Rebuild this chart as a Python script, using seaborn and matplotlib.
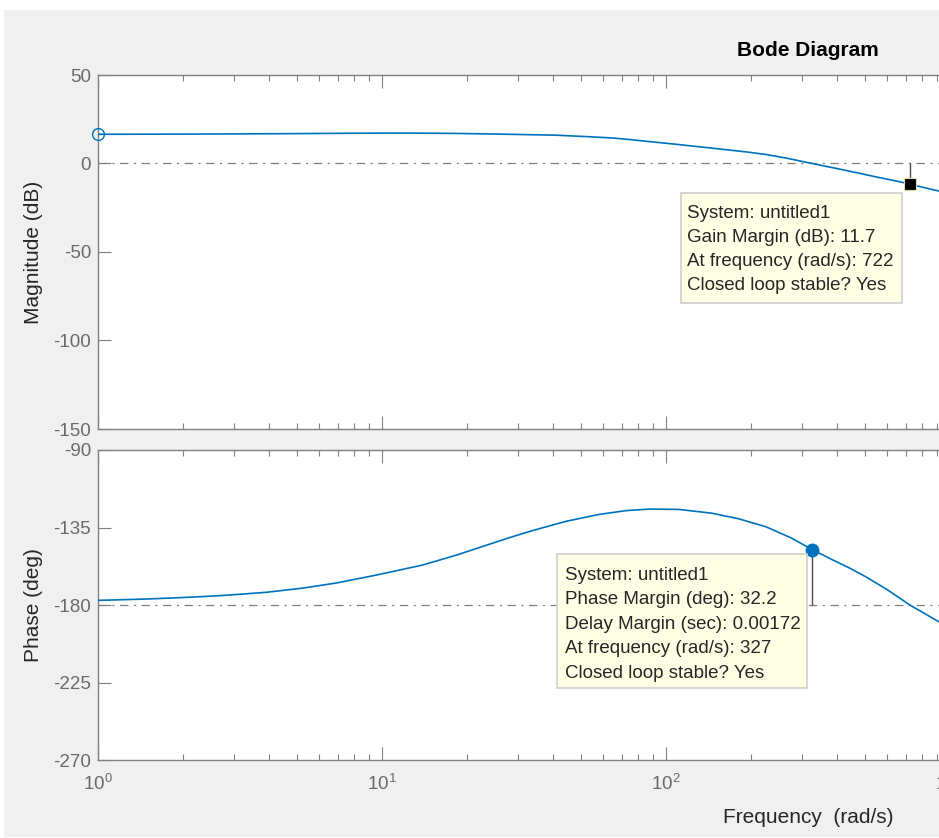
import matplotlib
matplotlib.use("Agg")
import matplotlib.pyplot as plt
import seaborn as sns
import pandas as pd
from matplotlib.patches import Rectangle
from matplotlib.ticker import LogLocator, LogFormatterMathtext, NullFormatter, FixedLocator

# ---------------- data ----------------
freq_mag = [1, 2, 4, 8, 12, 18, 26, 41, 54, 65, 76, 87, 108, 130, 163, 195, 225,
            270, 327, 390, 451, 550, 661, 722, 904, 1000]
mag_db = [16.5, 16.6, 16.8, 17.1, 17.2, 17.0, 16.6, 16.0, 15.1, 14.4, 13.4, 12.4,
          10.9, 9.5, 7.8, 6.4, 5.1, 2.8, 0.0, -2.5, -4.6, -7.6, -10.2, -11.7,
          -15.4, -17.2]

freq_phase = [1, 1.44, 1.91, 2.41, 2.91, 3.93, 5.26, 6.92, 9.56, 13.9, 18.3, 23.0,
              28.1, 33.7, 44.5, 58.2, 72.3, 87.3, 111, 145, 180, 225, 277, 327,
              384, 440, 505, 600, 722, 904, 1000]
phase_deg = [-177.3, -176.6, -175.8, -175.0, -174.2, -172.6, -170.2, -167.2,
             -162.6, -156.8, -151.0, -145.6, -140.9, -136.9, -131.4, -127.4,
             -125.2, -124.3, -124.5, -126.7, -129.9, -134.6, -141.2, -147.8,
             -153.6, -158.3, -163.6, -171.0, -180.0, -189.3, -193.3]

gm_freq, gm_db = 722, -11.7
pm_freq, pm_phase = 327, -147.8

mag_yticks = [-150, -100, -50, 0, 50]
phase_yticks = [-270, -225, -180, -135, -90]

gm_lines = ["System: untitled1", "Gain Margin (dB): 11.7",
            "At frequency (rad/s): 722", "Closed loop stable? Yes"]
pm_lines = ["System: untitled1", "Phase Margin (deg): 32.2",
            "Delay Margin (sec): 0.00172", "At frequency (rad/s): 327",
            "Closed loop stable? Yes"]

# ---------------- style ----------------
sns.set_style("white")
plt.rcParams["font.family"] = ["Liberation Sans", "DejaVu Sans"]
plt.rcParams["mathtext.fontset"] = "custom"
plt.rcParams["mathtext.rm"] = "Liberation Sans"
plt.rcParams["mathtext.it"] = "Liberation Sans"
plt.rcParams["mathtext.default"] = "regular"
plt.rcParams["lines.scale_dashes"] = False
plt.rcParams["axes.unicode_minus"] = False

LINE = "#0072bd"
AXC = "#808080"
TICKC = "#6a6a6a"
LABC = "#262626"
DASH = (0, (6, 4, 1.5, 4))

W, H = 939, 838
fig = plt.figure(figsize=(W / 100, H / 100), dpi=100, facecolor="white")
fig.add_artist(Rectangle((4 / W, 1 - 837 / H), 1, (837 - 10) / H,
                         transform=fig.transFigure, facecolor="#f0f0f0",
                         edgecolor="none", zorder=-10))

def fx(x):
    return x / W

def fy(y):
    return 1 - y / H

ax1 = fig.add_axes([fx(98), fy(429), 1420 / W, 354 / H])
ax2 = fig.add_axes([fx(98), fy(760), 1420 / W, 310 / H])

mag_df = pd.DataFrame({"freq": freq_mag, "mag": mag_db})
ph_df = pd.DataFrame({"freq": freq_phase, "phase": phase_deg})

sns.lineplot(data=mag_df, x="freq", y="mag", ax=ax1, color=LINE, lw=1.2,
             estimator=None, sort=False, zorder=3)
sns.lineplot(data=ph_df, x="freq", y="phase", ax=ax2, color=LINE, lw=1.2,
             estimator=None, sort=False, zorder=3)

for ax, ylim, yt in [(ax1, (-150, 50), mag_yticks), (ax2, (-270, -90), phase_yticks)]:
    ax.set_facecolor("white")
    ax.set_xscale("log")
    ax.set_xlim(1, 1e5)
    ax.set_ylim(*ylim)
    ax.yaxis.set_major_locator(FixedLocator(yt))
    ax.xaxis.set_major_locator(LogLocator(base=10, numticks=20))
    ax.xaxis.set_minor_locator(LogLocator(base=10, subs=range(2, 10), numticks=20))
    ax.xaxis.set_minor_formatter(NullFormatter())
    for s in ax.spines.values():
        s.set_visible(True)
        s.set_color(AXC)
        s.set_linewidth(1.0)
    ax.tick_params(which="both", direction="in", top=True, right=True,
                   bottom=True, left=True, color=AXC, width=0.8)
    ax.tick_params(which="major", length=9.5)
    ax.tick_params(which="minor", length=4.5)
    ax.tick_params(axis="y", labelsize=13.5, labelcolor=TICKC, pad=5)
    ax.set_xlabel("")

ax1.tick_params(axis="x", labelbottom=False)
ax2.xaxis.set_major_formatter(LogFormatterMathtext())
ax2.tick_params(axis="x", labelsize=13.5, labelcolor=TICKC, pad=10)

# reference lines
ax1.axhline(0, color="#7f7f7f", lw=0.9, ls=DASH, zorder=2)
ax2.axhline(-180, color="#7f7f7f", lw=0.9, ls=DASH, zorder=2)

# labels
ax1.set_ylabel("Magnitude (dB)", fontsize=15, color=LABC)
ax2.set_ylabel("Phase (deg)", fontsize=15, color=LABC)
for ax in (ax1, ax2):
    ax.yaxis.set_label_coords(-55 / 1420, 0.5)
ax2.set_xlabel("Frequency  (rad/s)", fontsize=15, color=LABC, labelpad=10)
ax1.set_title("Bode Diagram", fontsize=15, fontweight="bold", color="black", pad=14)

# start marker
ax1.plot([freq_mag[0]], [mag_db[0]], marker="o", ms=8.5, mfc="none", mec=LINE,
         mew=1.0, clip_on=False, zorder=5)

# gain margin marker
ax1.plot([gm_freq, gm_freq], [0, gm_db], color="#505050", lw=1.0, zorder=4)
ax1.plot([gm_freq], [gm_db], marker="s", ms=9, mfc="black", mec="#e6dca0",
         mew=0.8, zorder=6)

# phase margin marker
ax2.plot([pm_freq, pm_freq], [pm_phase, -180], color="#505050", lw=1.0, zorder=4)
ax2.plot([pm_freq], [pm_phase], marker="o", ms=9, mfc=LINE, mec=LINE, zorder=6)

# data tips
def datatip(x0, y0, x1, y1, lines, tx, ty0, dy):
    fig.add_artist(Rectangle((fx(x0), fy(y1)), (x1 - x0) / W, (y1 - y0) / H,
                             transform=fig.transFigure, facecolor="#ffffe6",
                             edgecolor="#cfcfcf", lw=1.2, zorder=10))
    for i, t in enumerate(lines):
        fig.text(fx(tx), fy(ty0 + i * dy), t, fontsize=13.5, color=LABC,
                 ha="left", va="center", zorder=11)

datatip(681, 193, 902, 303, gm_lines, 687, 213.3, 24.2)
datatip(557, 554, 807, 688, pm_lines, 565, 575, 24.5)

fig.savefig("out.png", dpi=100, facecolor="white")
